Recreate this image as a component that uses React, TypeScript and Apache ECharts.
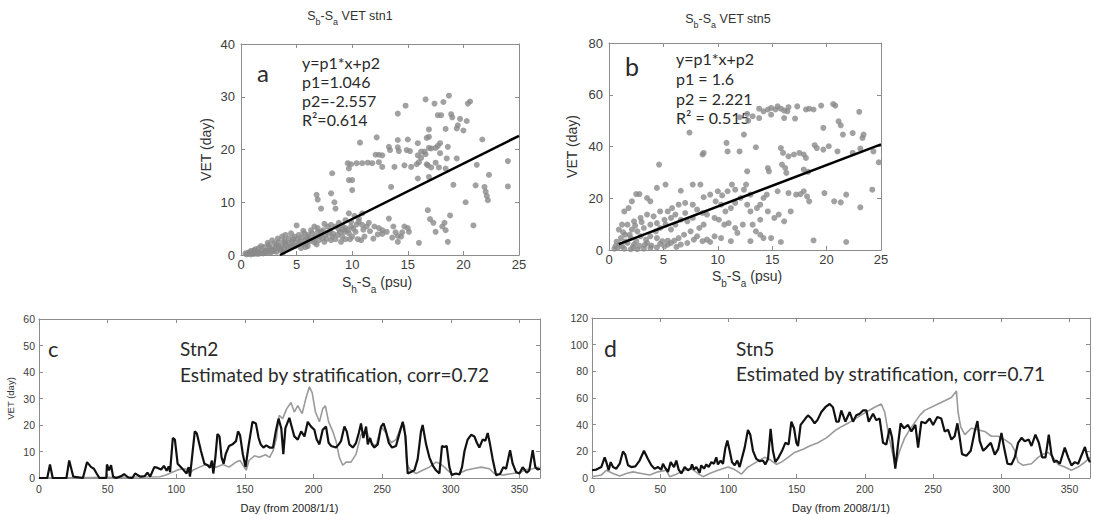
import React, { useEffect, useRef } from "react";
import * as echarts from "echarts";

// ---------- DATA ----------
// Panel a: Sb-Sa (psu) vs VET (day), stn1
const stn1Points: number[][] = [
  [18.7,30.2],[16.6,29.5],[17.4,28.7],[18.2,29.0],[14.8,28.3],[20.4,28.7],[20.6,29.1],[14.1,26.8],[17.7,26.5],[18.0,26.5],
  [18.9,26.7],[19.0,26.1],[19.7,25.8],[20.3,25.4],[19.5,24.6],[19.4,24.0],[18.4,23.9],[16.9,23.8],[20.0,23.6],[21.7,21.9],
  [16.9,22.4],[16.7,22.2],[12.2,22.3],[14.1,21.8],[15.0,21.9],[15.9,21.2],[17.9,21.2],[18.6,20.5],[10.7,21.3],[13.3,20.5],
  [13.4,19.9],[14.1,20.4],[14.2,19.7],[14.9,19.9],[15.2,19.7],[16.2,19.6],[16.5,19.6],[16.6,19.1],[16.9,20.3],[17.1,20.2],
  [17.7,20.7],[17.5,20.3],[15.9,18.9],[16.2,18.4],[17.9,19.3],[19.4,18.3],[18.5,18.3],[12.1,19.0],[12.4,19.0],[12.7,18.9],
  [9.6,17.4],[9.9,17.2],[10.4,17.4],[10.9,17.4],[11.4,17.5],[11.8,17.4],[12.4,17.6],[12.7,16.7],[13.8,16.7],[14.7,17.0],
  [15.3,16.7],[15.8,17.2],[16.0,17.6],[16.7,17.2],[17.5,17.5],[17.1,16.6],[16.8,17.0],[18.4,16.4],[9.7,16.4],[15.9,14.5],
  [16.9,14.8],[17.8,16.6],[19.1,13.3],[21.1,13.2],[21.9,12.9],[22.3,15.2],[24.0,17.8],[24.0,13.0],[20.2,10.0],[22.0,12.0],
  [22.1,11.2],[22.2,10.4],[20.9,5.6],[8.2,15.5],[9.7,14.2],[10.0,14.2],[13.5,12.9],[8.1,11.7],[6.8,11.4],[6.9,10.5],
  [7.2,8.8],[8.4,10.0],[8.5,8.8],[10.0,12.3],[16.8,8.5],[17.3,6.1],[17.0,6.8],[17.5,4.4],[18.1,5.4],[18.3,6.1],
  [18.4,4.7],[18.8,7.5],[18.6,2.5],[16.0,2.3],[5.0,5.6],[14.1,2.5],[11.9,3.1],[21.2,17.1],
  [9.7,7.9],[10.2,7.4],[10.6,6.9],[10.6,6.3],[10.9,5.7],[11.3,5.4],[11.5,6.1],[12.0,5.4],[12.4,5.1],[12.7,4.7],
  [13.1,4.4],[13.3,6.9],[13.7,5.4],[13.9,4.3],[14.1,3.6],[14.5,4.3],[14.7,5.4],[15.0,5.1],[15.1,4.4],[14.4,3.5],
  [13.6,3.3],[12.7,4.0],[12.3,3.9],[10.9,7.9],[10.8,2.8],[11.1,3.5],[11.6,4.5],
  [8.5,5.4],[8.8,4.9],[9.1,5.6],[9.3,4.4],[9.4,5.1],[9.7,4.1],[9.9,5.4],[9.1,3.5],[8.7,3.8],[8.2,3.5],
  [7.9,4.2],[7.6,3.8],[7.3,3.2],[7.0,2.8],[6.7,3.5],[6.5,3.0],[6.2,2.6],[5.9,2.3],[5.6,2.1],[5.2,2.0],
  [4.9,1.7],[6.4,4.1],[6.0,3.8],[5.5,3.3],[5.1,3.0],[4.6,2.6],[4.3,2.2],[4.0,2.1],[3.7,1.7],[3.4,1.6],
  [3.1,1.3],[2.8,1.1],[2.5,0.9],[2.2,0.8],[1.9,0.7],[1.6,0.6],[1.3,0.4],[1.0,0.3],[0.7,0.2],[0.6,0.4],
  [7.2,4.4],[7.4,4.7],[8.1,5.7],[7.8,5.4],[6.9,5.1],[5.7,4.1],[5.2,3.8],[4.8,3.5],[4.3,3.1],[3.9,2.8],
  [3.4,2.5],[3.0,2.2],[2.5,1.9],[2.1,1.5],[1.6,1.3],[1.2,0.9],[0.9,0.8],[0.4,0.3],[1.3,1.1],[1.8,1.7],
  [2.4,2.3],[2.8,2.8],[3.3,3.1],[3.7,3.5],[4.0,3.8],[4.5,4.1],[6.6,5.4],[6.3,4.7],[6.0,3.0],[7.5,2.5],
  [8.1,2.8],[8.5,3.0],[9.0,2.5],[9.4,3.0],[10.0,3.5],[10.3,4.4],[9.9,6.3],[9.4,6.6],[8.8,6.1],
  [1.5,0.2],[2.0,0.3],[2.6,0.4],[3.2,0.6],[3.6,0.9],[4.2,1.2],[4.6,1.5],[5.4,1.3],[6.0,1.7],[6.8,2.0],
  [0.8,0.5],[1.1,0.6],[2.3,0.5],[2.9,0.7],[3.8,0.5],
  [0.5,0.1],[0.9,0.1],[1.2,0.2],[1.7,0.3],[2.1,0.4],[2.7,0.6],[3.0,0.8],[3.5,1.1],[3.9,1.3],[4.4,1.6],
  [4.8,2.3],[5.3,2.6],[5.8,2.9],[6.1,3.3],[6.6,2.4],[7.1,3.6],[7.7,3.1],[8.0,4.6],[8.3,4.0],[8.9,4.4],
  [9.2,4.8],[9.6,4.7],[10.1,5.0],[10.4,5.8],[7.5,5.9],[6.9,4.4],[5.6,4.6],[4.7,3.0],[5.8,1.5],[2.6,1.4],
  [3.2,1.9],[3.9,2.4],[9.8,3.0],[10.5,3.0],[11.0,4.8]
];
const stn1FitX = [3.5, 25];
const stn1FitY = [0, 22.6];

// Panel b: stn5
const stn5Points: number[][] = [
  [13.8,54.6],[14.2,53.6],[14.6,54.3],[14.9,54.9],[15.3,54.3],[15.5,55.5],[15.8,54.6],[16.1,53.9],[16.4,53.6],[16.5,55.2],
  [17.3,55.5],[18.1,54.3],[18.4,54.6],[18.8,54.3],[19.5,55.8],[20.6,56.4],[20.8,55.8],[23.0,53.4],[12.7,52.6],[13.2,51.7],
  [13.8,51.0],[14.9,52.3],[16.1,51.0],[17.1,50.8],[12.0,51.3],[12.8,50.0],[7.4,45.4],[19.7,47.2],[21.1,49.7],[21.3,48.2],
  [21.5,44.6],[22.4,45.2],[23.3,43.3],[23.4,44.6],[12.4,44.6],[10.8,41.4],[10.9,38.1],[12.0,38.1],[13.5,39.7],[8.6,36.9],
  [8.7,37.5],[15.8,39.4],[16.0,37.5],[16.5,36.2],[17.0,36.9],[17.5,37.5],[17.9,36.9],[18.1,35.6],[18.9,40.5],[19.1,39.4],
  [19.7,38.8],[20.2,40.1],[21.0,38.1],[22.4,37.5],[23.1,39.2],[24.3,38.1],[24.8,33.9],[24.2,23.3],[4.6,33.0],[12.7,30.4],
  [14.6,31.7],[14.7,30.4],[15.9,33.0],[16.2,31.7],[16.3,29.8],[17.9,31.1],[18.3,30.2],[19.8,22.0],[20.7,18.8],[21.3,18.4],
  [21.8,21.4],[23.1,16.5],[17.9,22.7],[17.6,21.6],[17.2,21.4],[18.2,20.7],[18.4,18.8],[16.5,22.0],[15.5,22.7],[14.5,21.4],
  [14.2,20.1],[13.9,17.5],[13.6,16.2],[13.0,14.9],[12.7,17.5],[18.8,3.7],[21.8,3.1],[11.3,25.3],[12.4,23.3],[12.6,25.3],
  [11.6,23.3],[10.9,22.7],[10.4,21.1],[10.0,22.7],[9.3,21.4],[8.7,20.4],[8.4,25.3],[7.7,25.3],[6.6,22.9],[5.2,25.3],
  [4.4,24.0],[2.5,21.6],[2.8,21.6],[2.1,18.8],[3.5,20.1],[3.8,18.8],[1.4,14.9],[1.8,16.2],
  [0.9,7.9],[1.2,9.8],[1.7,9.8],[2.3,11.1],[2.9,12.4],[3.5,13.7],[4.1,13.0],[4.7,14.9],[5.4,14.9],[5.8,16.2],
  [6.4,17.5],[7.0,18.2],[7.7,17.5],[8.1,15.6],[8.6,14.3],[9.0,13.7],[9.7,12.4],[10.1,11.7],[10.6,9.8],[11.0,10.4],
  [11.6,8.5],[9.7,5.3],[9.0,4.0],[9.3,3.1],[10.3,4.6],[11.2,3.4],[8.7,9.8],[8.3,8.5],[7.5,7.2],[6.9,5.9],
  [6.4,4.6],[6.0,3.6],[5.7,2.7],[5.4,2.1],[5.1,1.4],[4.4,1.0],[3.8,0.8],[3.2,0.5],[2.6,0.3],[2.0,0.3],
  [1.4,0.5],[0.8,0.8],[0.5,0.5],
  [1.1,4.6],[1.5,5.9],[2.0,4.6],[2.5,3.4],[2.9,5.3],[3.4,4.0],[3.8,5.3],[4.3,7.2],[4.7,8.5],[5.2,9.8],
  [5.7,7.9],[6.1,9.8],[6.6,11.7],[7.2,11.1],[7.7,12.4],[3.2,8.5],[2.6,7.2],[2.1,7.9],[3.8,9.8],[4.4,10.4],
  [5.1,11.7],[5.7,12.4],[6.1,13.7],[7.0,14.3],[7.8,4.0],[7.2,2.7],[6.6,2.1],[8.1,5.3],[8.6,3.4],[4.4,4.6],
  [4.9,3.4],[3.5,2.7],[2.3,2.1],[1.7,2.7],[1.2,1.4],
  [13.2,9.8],[13.5,7.2],[13.9,5.9],[14.2,4.6],[14.9,4.6],[13.0,3.4],[12.3,9.8],[11.8,6.6],[15.8,3.1],[15.2,12.4],
  [15.6,13.7],[16.1,11.1],[16.7,14.9],[14.6,14.9],[13.9,11.7],[13.0,21.4],[12.1,20.1],[11.6,18.2],[11.2,16.2],[10.7,14.9],
  [10.3,17.5],[9.8,18.8],
  [0.6,1.5],[1.0,2.2],[1.5,3.3],[2.2,1.1],[2.8,1.6],[3.3,2.0],[3.9,1.7],[4.7,2.4],[5.4,3.6],[6.2,1.2],
  [1.9,5.9],[2.4,9.4],[3.0,10.8],[0.7,3.2],[1.3,6.8]
];
const stn5FitX = [0.9, 25];
const stn5FitY = [2.3, 40.8];

// Panel c: Stn2 time series [day, VET]
const stn2Black: number[][] = [
  [0,0],[6,0],[8,5.1],[10,0],[20,0],[22,6.6],[25,0.5],[32,0],[35,6],[38,4.1],[40,3.5],[42,1.7],[44,0],[49,0],[49.5,5.1],
  [51,2.9],[52.5,4.8],[54,0.5],[56,0],[60,0.7],[62,1.5],[65,0.2],[68,0],[70,1.7],[72,1.1],[74,0.5],[77,0.7],[79,2],[81,0.5],
  [84,4.1],[86,3.9],[89,3.2],[91,4.6],[93,2.7],[94.5,4.4],[95.5,2.3],[97.5,15.1],[99,14.5],[101,5.4],[105,3.2],[107.5,1.7],
  [109,4.1],[110,0.5],[113.5,17.6],[115,16.8],[118,10.2],[120.5,5.4],[123,4.8],[124.5,3.9],[126,6.6],[127,1.7],[128.5,7.8],
  [130,16.6],[131.5,15.7],[133,7.8],[134.5,5.4],[136,9],[138.5,12.1],[141,12.7],[143.5,13.9],[145,17.6],[146.5,16.1],
  [148.5,9],[150.5,4.1],[152.5,11.5],[155.5,21.2],[158,20.6],[160,15.1],[161.5,12.7],[163.5,11.5],[165.5,12.3],[168,11.5],
  [170.5,11.5],[172.5,17.6],[174.5,22.4],[176.5,18.8],[178,9],[179.5,18.8],[182.4,22.7],[184.4,18.8],[186,15.7],[188.5,14.5],
  [191,17.6],[193.4,15.7],[195.8,21.2],[198.2,19.4],[200.6,18.2],[202.3,14.5],[204.3,12.7],[206.7,18.2],[209.1,19.4],[211,13.3],
  [212.8,12.1],[216.4,11.5],[218.4,12.7],[220,13.9],[222.5,19.4],[224.2,17.6],[226.1,12.7],[228.6,11.5],[231,13.3],[233,17],
  [234.6,20.6],[236.3,15.1],[238.3,19.4],[239.5,12.7],[241.2,15.1],[242.6,12.7],[244.3,11.5],[246.8,12.7],[249.2,19.4],[251,20.6],
  [252.8,17.6],[254.8,13.3],[257.2,11.5],[260.1,12.1],[263,17.6],[265,21.2],[267,15.7],[268.6,1.7],[271,2.3],[273.5,2.9],
  [275.9,7.2],[278.3,17.6],[279.5,20],[282,12.7],[284.4,7.8],[286.8,4.8],[289.2,2.9],[291.7,1.7],[293.6,12.1],[295.3,11.7],
  [297,12.1],[299,4.1],[300.7,1.1],[303.8,1.7],[306.3,1.3],[308.2,4.1],[310,10.2],[312.3,14.5],[314.8,16.3],[317.2,15.7],
  [319,13.3],[320.8,11.5],[323.2,14.5],[325.2,14.1],[326.9,17],[328.6,12.7],[330.5,7.2],[333,1.1],[335.9,1.5],[338.3,4.1],
  [340.3,3.5],[343.2,10.5],[345.1,5.4],[347.5,2.3],[350,1.7],[352.4,4.1],[355.3,2],[357.2,2.9],[359.7,10.5],[361.6,4.1],
  [363.3,3.2],[365,3.5]
];
const stn2Gray: number[][] = [
  [0,0],[88,0.5],[92.5,1.1],[97.5,2.3],[102,3.2],[107,3.5],[110,1.7],[112,2.9],[117,4.1],[121.5,5.1],[124.5,4.1],[129,4.1],
  [134,5.1],[138.5,4.1],[143.5,6],[146.5,6.6],[149.5,4.1],[151,2.9],[153,6.6],[157,8.4],[160.5,7.8],[165,8.8],[168,7.8],
  [170.5,10.2],[173,15.1],[175,23.7],[177.5,22.4],[180.4,26.1],[183.6,28.5],[186,24.9],[188.5,27.3],[191.7,24.3],[194.6,30.4],
  [197,34.4],[199,32.2],[201.4,24.9],[204.3,21.2],[206.7,26.1],[208.6,27.3],[211,21.2],[214,17.6],[216.4,13.9],[218.8,7.8],
  [221.3,4.8],[223.7,6],[227.3,6],[231,9],[234.6,16.3],[238.3,18.2],[241.9,13.3],[245.5,12.1],[249.2,19.4],[252.8,17],
  [256.5,13.3],[260.1,14.5],[263.8,19.4],[266.2,20],[267.9,5.4],[270.3,3.2],[274.7,1.7],[279.5,2.9],[284.4,4.1],[289.2,6],
  [292.1,5.4],[295.3,4.1],[300.2,1.7],[305,1.5],[311.1,2.9],[315.9,3.5],[322,4.1],[328.1,3.5],[331.7,1.7],[337.8,1.1],
  [345.1,1.7],[350,2],[354.8,3.2],[359.7,3.5],[364.5,4.1]
];

// Panel d: Stn5 time series [day, VET]
const stn5Black: number[][] = [
  [0,5.8],[3.2,6.3],[6.8,8.2],[9.3,15.5],[10.5,11.9],[12.2,5.8],[13.7,11.9],[15.4,8.2],[17.8,7],[20.3,10.7],[22.7,19.9],
  [24.4,17.5],[26.4,9.5],[28.8,8.2],[31.8,8.7],[34.9,13.1],[38.1,20.4],[41,14.3],[43.5,9.5],[45.9,7],[48.4,8.2],[50.8,6.3],
  [52,10.7],[53.3,8.2],[55.7,4.6],[57.7,11.9],[60.1,8.2],[61.8,13.1],[63.5,6.3],[65.5,3.4],[67.9,8.2],[70.4,5.8],[72.3,7],
  [73.3,10.2],[74.8,6.3],[76.5,8.2],[78.9,3.9],[80.1,9.5],[82.1,7],[83.8,10.2],[85.5,8.2],[87.5,11.9],[89.4,10.7],[91.1,15.5],
  [92.3,10.2],[94.3,13.1],[96,10.7],[97.7,22.3],[99.2,28.1],[100.9,20.4],[102.6,11.9],[104.6,9.5],[106.5,13.1],[108.2,8.2],
  [111.9,22.8],[114.3,36.1],[116,32.5],[118,20.4],[120.4,14.3],[122.9,12.6],[125.3,13.1],[127,10.2],[129,14.3],[130.9,36.8],
  [132.6,20.4],[134.4,11.9],[136.8,15.5],[139.3,20.4],[141.7,26.4],[144.1,25.2],[146.1,42.2],[148.1,37.3],[149.8,26.4],[151,24],
  [152.9,39.8],[156.4,44.6],[158.3,47],[160.8,44.6],[163.2,41],[165.2,43.4],[168.1,49.5],[171,53.1],[174.2,55.5],[176.6,53.1],
  [179.1,42.2],[180.8,42.2],[182.7,50.7],[185.7,42.2],[188.9,49.5],[191.3,42.2],[193.7,47],[196.2,48.2],[198.6,50.7],[201.1,50.7],
  [202.8,42.2],[206,48.2],[208.4,43.4],[210.8,44.6],[213.3,26.4],[215.7,25.2],[218.2,37.3],[219.9,30.3],[222.3,7],[224.3,25.2],
  [226.2,41],[228.7,37.3],[231.6,39.8],[234.1,34.9],[237,39.8],[239,22.8],[241.4,42.2],[244.4,41],[247.5,44.6],[250,39.8],
  [253.1,45.8],[256,44.6],[258.5,34.9],[261,36.1],[263.4,28.8],[265.8,31.3],[267.8,41],[269.5,30.1],[271.2,17.9],[274.4,16.7],
  [277.6,20.4],[280.5,34.9],[282.5,42.7],[284.2,27.6],[286.7,20.4],[289.1,22.8],[292.3,26.4],[295.2,17.5],[297.7,21.6],[300.1,33.7],
  [302,22.8],[304.5,10.7],[307.4,10.2],[309.9,15.5],[312.3,26.4],[314.8,30.1],[317.2,27.6],[320.1,28.8],[322.1,24],[325,32.5],
  [327.5,26.4],[329.9,15.5],[332.4,15.5],[334.8,32.5],[336.7,17.9],[338.7,11.9],[340.4,13.1],[342.9,10.7],[346.5,22.8],[349,15.5],
  [351.4,9.5],[353.9,11.9],[356.3,10.7],[361.3,23.3],[363.2,15.5],[365,11.9]
];
const stn5Gray: number[][] = [
  [0,1],[6.8,2.2],[10.5,5.8],[15.4,3.4],[20.3,1.5],[25.2,3.4],[30,4.6],[36.2,3.4],[42.3,2.2],[48.4,4.6],[54.5,5.8],[56.9,1],
  [61.8,2.9],[67.9,5.8],[72.8,7],[77.7,3.4],[81.4,1],[86.2,3.4],[92.3,5.8],[99.7,8.2],[104.6,6.3],[109.5,2.9],[114.3,8.2],
  [120.4,11.9],[126.6,15.5],[131.4,13.1],[135.1,10.2],[138.8,11.9],[143.7,15.5],[148.5,19.2],[154.7,21.6],[159.5,24],[165.6,26.4],
  [171.8,30.1],[177.9,35.4],[182.7,38.5],[187.6,41],[195,45.8],[201.1,49.5],[207.2,53.1],[212,55.5],[214.5,49.5],[217.4,32.5],
  [219.9,20.4],[222.3,8.7],[225.5,20.4],[229.2,30.1],[232.8,36.1],[240.2,47],[243.8,50.7],[253.6,55.5],[258.5,57.9],[263.4,60.4],
  [267.1,65.2],[268.3,49.5],[270.2,38.5],[273.2,32.5],[278,37.3],[287.8,34.9],[292.7,31.3],[297.7,31.3],[302.5,28.8],[307.4,25.2],
  [309.9,20.4],[312.3,11.9],[316,9.5],[322.1,10.7],[327,15.5],[330.6,17.9],[334.3,19.2],[338,15.5],[341.6,10.2],[346.5,8.2],
  [351.4,5.8],[356.3,8.2],[361.3,11.9],[365,15.5]
];

// Axis ranges / ticks: [min, max, interval]
const scatterXRange = [0, 25, 5];
const stn1YRange = [0, 40, 10];
const stn5YRange = [0, 80, 20];
const dayRange = [0, 365, 50];
const stn2YRange = [0, 60, 10];
const stn5TsYRange = [0, 120, 20];

// ---------- STYLE ----------
const AXIS = "#8c8c8c";
const LABEL = "#3c3c3c";
const ARIAL = "Liberation Sans";
const CAL = "Lato";

function axis(
  gridIndex: number,
  range: number[],
  position: string,
  showLabel: boolean,
  fontSize: number,
  margin: number,
  extra: any = {}
) {
  return {
    type: "value",
    gridIndex,
    min: range[0],
    max: range[1],
    interval: range[2],
    position,
    axisLine: { show: true, onZero: false, lineStyle: { color: AXIS, width: 1 } },
    axisTick: { show: true, inside: true, length: 4, lineStyle: { color: AXIS, width: 1 } },
    axisLabel: {
      show: showLabel,
      fontSize,
      color: LABEL,
      fontFamily: ARIAL,
      margin,
      showMaxLabel: range[1] % range[2] === 0,
    },
    splitLine: { show: false },
    ...extra,
  };
}

// rich styles: normal tokens aligned to line top, subscript tokens to line bottom
function subRich(fs: number, subFs: number, lineH: number) {
  return {
    n: { fontSize: fs, fontFamily: ARIAL, verticalAlign: "top" },
    s: { fontSize: subFs, fontFamily: ARIAL, lineHeight: lineH, verticalAlign: "bottom" },
  };
}

function txt(text: string, x: number, y: number, fontSize: number, extra: any = {}) {
  return {
    type: "text",
    x,
    y,
    silent: true,
    style: {
      text,
      fontSize,
      fontFamily: CAL,
      fill: "#2a2a2a",
      verticalAlign: "middle",
      align: "left",
      ...extra,
    },
  };
}

function richText(text: string, x: number, y: number, rich: any) {
  return {
    type: "text",
    x,
    y,
    silent: true,
    style: { text, fill: "#333", align: "center", verticalAlign: "top", rich },
  };
}

const zip = (xs: number[], ys: number[]) => xs.map((x, i) => [x, ys[i]]);

export default function App() {
  const ref = useRef<HTMLDivElement>(null);
  useEffect(() => {
    if (!ref.current) return;
    const chart = echarts.init(ref.current, undefined, { renderer: "svg" });
    const yNameStyle = (fs: number) => ({ fontSize: fs, fontFamily: ARIAL, color: "#333" });
    const dayName = {
      name: "Day (from 2008/1/1)",
      nameLocation: "middle",
      nameGap: 24,
      nameTextStyle: { fontSize: 11, fontFamily: ARIAL, color: "#222" },
    };
    const scatterStyle = {
      type: "scatter",
      symbol: "circle",
      symbolSize: 6,
      itemStyle: { color: "#8a8a8a" },
      silent: true,
    };
    const lineBase = { type: "line", symbol: "none", silent: true };
    const option: any = {
      animation: false,
      backgroundColor: "#fff",
      grid: [
        { left: 241, top: 44, width: 278, height: 211, containLabel: false },
        { left: 609, top: 43, width: 272, height: 207, containLabel: false },
        { left: 39, top: 319, width: 501, height: 164, containLabel: false },
        { left: 592, top: 318, width: 498, height: 165, containLabel: false },
      ],
      xAxis: [
        axis(0, scatterXRange, "bottom", true, 13, 3),
        axis(0, scatterXRange, "top", false, 13, 3),
        axis(1, scatterXRange, "bottom", true, 13, 3),
        axis(1, scatterXRange, "top", false, 13, 3),
        axis(2, dayRange, "bottom", true, 10.5, 5, dayName),
        axis(2, dayRange, "top", false, 10, 5),
        axis(3, dayRange, "bottom", true, 10.5, 5, dayName),
        axis(3, dayRange, "top", false, 10, 5),
      ],
      yAxis: [
        axis(0, stn1YRange, "left", true, 13, 6, {
          name: "VET (day)",
          nameLocation: "middle",
          nameGap: 28,
          nameRotate: 90,
          nameTextStyle: yNameStyle(14),
        }),
        axis(0, stn1YRange, "right", false, 13, 6),
        axis(1, stn5YRange, "left", true, 13, 6, {
          name: "VET (day)",
          nameLocation: "middle",
          nameGap: 30,
          nameRotate: 90,
          nameTextStyle: yNameStyle(14),
        }),
        axis(1, stn5YRange, "right", false, 13, 6),
        axis(2, stn2YRange, "left", true, 10.5, 4, {
          name: "VET (day)",
          nameLocation: "middle",
          nameGap: 24,
          nameRotate: 90,
          nameTextStyle: yNameStyle(9.5),
        }),
        axis(2, stn2YRange, "right", false, 10, 4),
        axis(3, stn5TsYRange, "left", true, 10.5, 4),
        axis(3, stn5TsYRange, "right", false, 10, 4),
      ],
      series: [
        { ...scatterStyle, xAxisIndex: 0, yAxisIndex: 0, data: stn1Points },
        {
          ...lineBase,
          xAxisIndex: 0,
          yAxisIndex: 0,
          data: zip(stn1FitX, stn1FitY),
          lineStyle: { color: "#000", width: 2.5 },
        },
        { ...scatterStyle, xAxisIndex: 2, yAxisIndex: 2, data: stn5Points },
        {
          ...lineBase,
          xAxisIndex: 2,
          yAxisIndex: 2,
          data: zip(stn5FitX, stn5FitY),
          lineStyle: { color: "#000", width: 2.5 },
        },
        {
          ...lineBase,
          xAxisIndex: 4,
          yAxisIndex: 4,
          data: stn2Gray,
          lineStyle: { color: "#9a9a9a", width: 1.6 },
        },
        {
          ...lineBase,
          xAxisIndex: 4,
          yAxisIndex: 4,
          data: stn2Black,
          lineStyle: { color: "#111", width: 2.2 },
        },
        {
          ...lineBase,
          xAxisIndex: 6,
          yAxisIndex: 6,
          data: stn5Gray,
          lineStyle: { color: "#9a9a9a", width: 1.6 },
        },
        {
          ...lineBase,
          xAxisIndex: 6,
          yAxisIndex: 6,
          data: stn5Black,
          lineStyle: { color: "#111", width: 2.2 },
        },
      ],
      graphic: [
        // titles
        richText("{n|S}{s|b}{n|-S}{s|a}{n| VET stn1}", 350, 9, subRich(12.5, 9, 17)),
        richText("{n|S}{s|b}{n|-S}{s|a}{n| VET stn5}", 728, 12, subRich(12.5, 9, 17)),
        // scatter x-axis names
        richText("{n|S}{s|h}{n|-S}{s|a}{n| (psu)}", 377, 275, subRich(14, 10, 19)),
        richText("{n|S}{s|b}{n|-S}{s|a}{n| (psu)}", 747, 269, subRich(14, 10, 19)),
        // panel a annotations
        txt("a", 257, 72, 24),
        txt("y=p1*x+p2", 302, 62, 16),
        txt("p1=1.046", 302, 81, 16),
        txt("p2=-2.557", 302, 100, 16),
        txt("R\u00b2=0.614", 302, 119, 16),
        // panel b annotations
        txt("b", 625, 66, 25),
        txt("y=p1*x+p2", 676, 58, 16),
        txt("p1 = 1.6", 676, 78, 16),
        txt("p2 = 2.221", 676, 98, 16),
        txt("R\u00b2 = 0.515", 676, 117, 16),
        // panel c annotations
        txt("c", 48, 348, 22),
        txt("Stn2", 180, 348, 19),
        txt("Estimated by stratification, corr=0.72", 180, 374, 19),
        // panel d annotations
        txt("d", 604, 348, 23),
        txt("Stn5", 736, 348, 19),
        txt("Estimated by stratification, corr=0.71", 736, 373, 19),
      ],
    };
    chart.setOption(option);
    return () => chart.dispose();
  }, []);
  return (
    <div
      ref={ref}
      style={{ position: "absolute", left: 0, top: 0, width: 1094, height: 514 }}
    />
  );
}
